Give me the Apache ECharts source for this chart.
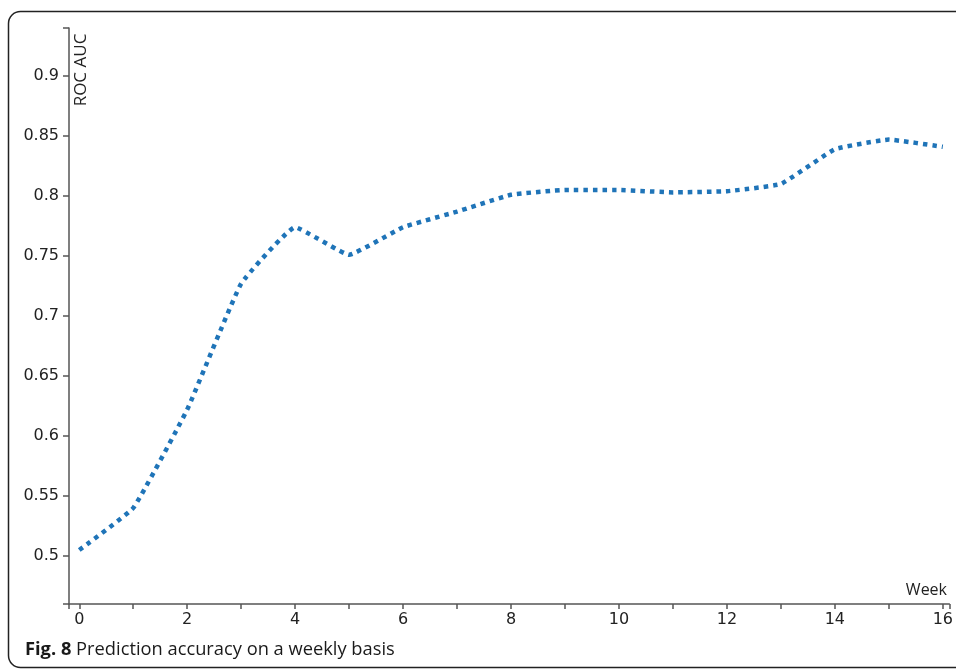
<!DOCTYPE html>
<html>
<head>
<meta charset="utf-8">
<style>
html,body{margin:0;padding:0;background:#fff;}
#chart{width:956px;height:669px;}
</style>
<script src="https://cdn.jsdelivr.net/npm/echarts@6/dist/echarts.min.js"></script>
</head>
<body>
<div id="chart"></div>
<script>
const weeks = [0,1,2,3,4,5,6,7,8,9,10,11,12,13,14,15,16];
const rocAuc = [0.505,0.540,0.622,0.727,0.774,0.751,0.774,0.787,0.801,0.805,0.805,0.803,0.804,0.810,0.839,0.847,0.841];
const yTickLabels = [0.5,0.55,0.6,0.65,0.7,0.75,0.8,0.85,0.9];
const xTickLabels = [0,2,4,6,8,10,12,14,16];
const xMinorTicks = [0,1,2,3,4,5,6,7,8,9,10,11,12,13,14,15,16];
const yAxisName = 'ROC AUC';
const xAxisName = 'Week';
const captionBold = 'Fig. 8';
const captionText = ' Prediction accuracy on a weekly basis';

const X_MIN = -0.19, X_MAX = 16.12, Y_MIN = 0.46, Y_MAX = 0.94;

const chart = echarts.init(document.getElementById('chart'), null, {renderer:'canvas'});
const axisFont = {fontFamily:'DejaVu Sans', fontSize:16, color:'#222'};
chart.setOption({
  animation:false,
  backgroundColor:'#fff',
  grid:{left:69, right:2, top:28, bottom:65, containLabel:false},
  xAxis:{
    type:'value', min:X_MIN, max:X_MAX,
    axisLine:{show:true, onZero:false, lineStyle:{color:'#555', width:1.5}},
    axisTick:{show:true, inside:false, length:5, customValues:[X_MIN].concat(xMinorTicks, [X_MAX]), lineStyle:{color:'#555', width:1.5}},
    axisLabel:Object.assign({customValues:xTickLabels, margin:8, formatter:v=>String(v)}, axisFont),
    splitLine:{show:false}
  },
  yAxis:{
    type:'value', min:Y_MIN, max:Y_MAX,
    axisLine:{show:true, onZero:false, lineStyle:{color:'#555', width:1.5}},
    axisTick:{show:true, inside:false, length:6, customValues:[Y_MIN].concat(yTickLabels, [Y_MAX]), lineStyle:{color:'#555', width:1.5}},
    axisLabel:Object.assign({customValues:yTickLabels, margin:10, formatter:v=>String(v)}, axisFont),
    splitLine:{show:false}
  },
  series:[{
    type:'line',
    data:weeks.map((w,i)=>[w, rocAuc[i]]),
    showSymbol:false,
    smooth:0.1,
    lineStyle:{color:'#1f74b8', width:4.5, type:[4.5,5], cap:'butt'}
  }],
  graphic:[
    {type:'rect', silent:true, z:-1, shape:{x:8.5, y:11.5, width:990, height:656, r:12}, style:{fill:'none', stroke:'#222', lineWidth:1.5}},
    {type:'text', x:81, y:70, rotation:Math.PI/2, style:{text:yAxisName, fontFamily:'Open Sans', fontSize:17, fill:'#222', align:'center', verticalAlign:'middle'}},
    {type:'text', x:947, y:590, style:{text:xAxisName, fontFamily:'Open Sans', fontSize:16, fill:'#222', align:'right', verticalAlign:'middle'}},
    {type:'text', x:25, y:650, style:{
      text:'{b|'+captionBold+'}{n|'+captionText+'}', verticalAlign:'middle',
      rich:{b:{fontFamily:'Open Sans', fontWeight:'bold', fontSize:18.3, fill:'#1a1a1a'}, n:{fontFamily:'Open Sans', fontSize:18.3, fill:'#1a1a1a'}}
    }}
  ]
});
</script>
</body>
</html>
